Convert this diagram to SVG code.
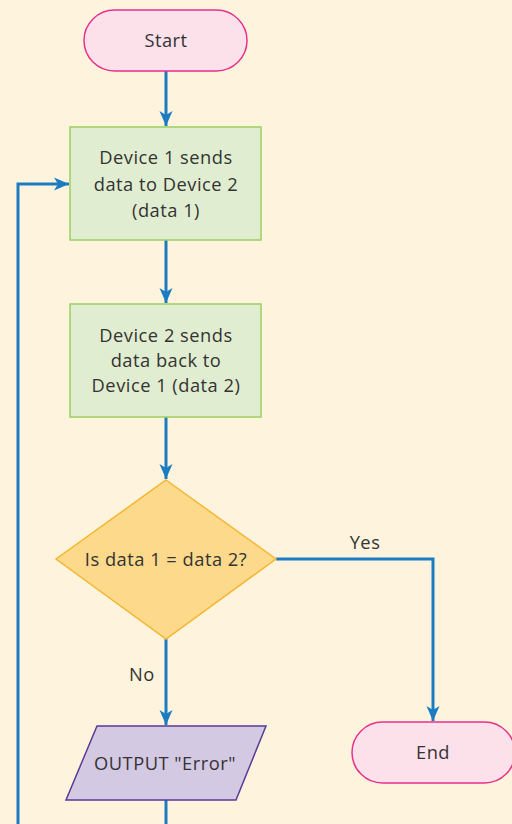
<svg xmlns="http://www.w3.org/2000/svg" width="512" height="824" viewBox="0 0 512 824">
  <style>
    .bg { fill: #fef3dd; }
    .terminal { fill: #fce0ea; stroke: #e8318b; stroke-width: 1.5; }
    .process { fill: #e1edd0; stroke: #9ccf63; stroke-width: 1.5; }
    .decision { fill: #fcd98b; stroke: #f4b731; stroke-width: 1.5; }
    .io { fill: #d3c9e3; stroke: #5a3a95; stroke-width: 1.5; }
    .label { font-family: "Open Sans", "Noto Sans", "Liberation Sans", sans-serif; font-size: 18.3px; letter-spacing: 0.5px; fill: #333333; text-anchor: middle; }
    .flow { fill: none; stroke: #1b7cc1; stroke-width: 3; }
  </style>
  <defs>
    <marker id="arrow" markerUnits="userSpaceOnUse" markerWidth="16" markerHeight="16" viewBox="0 0 16 16" refX="15" refY="8" orient="auto">
      <path d="M0,1.5 L15,8 L0,14.5 L4,8 Z" fill="#1b7cc1"/>
    </marker>
  </defs>

  <rect class="bg" x="0" y="0" width="512" height="824"/>

  <g id="connectors">
    <path class="flow" d="M166,71 V126" marker-end="url(#arrow)"/>
    <path class="flow" d="M166,240 V303" marker-end="url(#arrow)"/>
    <path class="flow" d="M166,417 V479" marker-end="url(#arrow)"/>
    <path class="flow" d="M276,559 H433 V721" marker-end="url(#arrow)"/>
    <path class="flow" d="M166,639 V725" marker-end="url(#arrow)"/>
    <path class="flow" d="M166,800 V824"/>
    <path class="flow" d="M18,824 V184 H69" marker-end="url(#arrow)"/>
    <text class="label" x="365" y="549">Yes</text>
    <text class="label" x="142" y="681">No</text>
  </g>

  <g id="start">
    <rect class="terminal" x="84" y="10" width="163" height="61" rx="30.5" ry="30.5"/>
    <text class="label" x="166" y="47">Start</text>
  </g>

  <g id="send-data-1">
    <rect class="process" x="70" y="127" width="191" height="113"/>
    <text class="label" x="166" y="164">Device 1 sends</text>
    <text class="label" x="166" y="191">data to Device 2</text>
    <text class="label" x="166" y="217">(data 1)</text>
  </g>

  <g id="send-data-2">
    <rect class="process" x="70" y="304" width="191" height="113"/>
    <text class="label" x="166" y="342">Device 2 sends</text>
    <text class="label" x="166" y="367">data back to</text>
    <text class="label" x="166" y="392">Device 1 (data 2)</text>
  </g>

  <g id="compare">
    <polygon class="decision" points="166,480 276,559 166,639 56,559"/>
    <text class="label" x="166" y="566">Is data 1 = data 2?</text>
  </g>

  <g id="output-error">
    <polygon class="io" points="97,726 266,726 236,800 66,800"/>
    <text class="label" x="165" y="770" xml:space="preserve">OUTPUT "Error"</text>
  </g>

  <g id="end">
    <rect class="terminal" x="352" y="722" width="163" height="61" rx="30.5" ry="30.5"/>
    <text class="label" x="433" y="759">End</text>
  </g>
</svg>
